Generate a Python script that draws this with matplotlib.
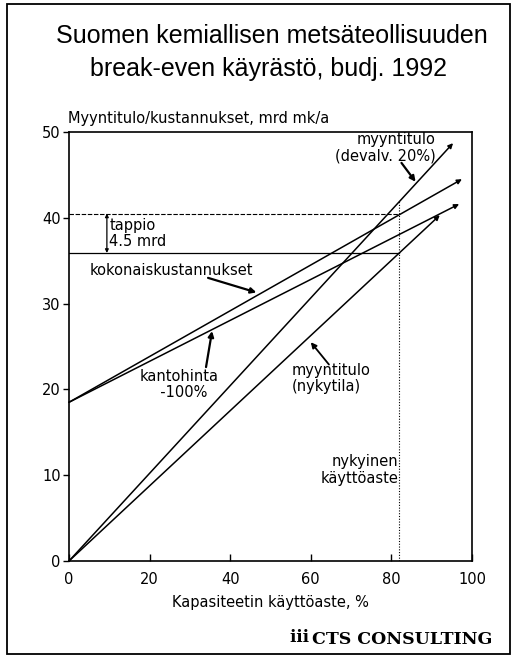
import matplotlib
matplotlib.use("Agg")
from matplotlib import pyplot as plt
from matplotlib.patches import Rectangle

plt.rcParams["font.family"] = ["DejaVu Sans"]

# break-even lines: start and end points (capacity %, mrd mk/a)
cost_x = [0, 97.5]
cost_y = [18.5, 44.5]
kanto_x = [0, 96.8]
kanto_y = [18.5, 41.6]
rev_now_x = [0, 92.0]
rev_now_y = [0, 40.3]
rev_dev_x = [0, 95.3]
rev_dev_y = [0, 48.7]

current_util = 82.0
cost_at_current = 40.5
rev_at_current = 35.9
rev_dev_at_current = 42.0

x_ticks = [0, 20, 40, 60, 80, 100]
y_ticks = [0, 10, 20, 30, 40, 50]

fig = plt.figure(figsize=(5.12, 6.56), dpi=100)
fig.patches.append(Rectangle((7 / 512, 2 / 656), 503 / 512, 650 / 656,
                             transform=fig.transFigure, fill=False, lw=1.3, ec="black"))

title_font = ["Liberation Sans", "DejaVu Sans"]
fig.text(0.531, 0.945, "Suomen kemiallisen metsäteollisuuden", ha="center", va="center",
         fontsize=18, family=title_font)
fig.text(0.524, 0.895, "break-even käyrästö, budj. 1992", ha="center", va="center",
         fontsize=18, family=title_font)

ax = fig.add_axes([69 / 512, 1 - 561 / 656, 403 / 512, 429 / 656])
ax.set_xlim(0, 100)
ax.set_ylim(0, 50)
ax.set_xticks(x_ticks)
ax.set_yticks(y_ticks)
ax.tick_params(axis="x", direction="in", length=5, width=1, labelsize=10.5, pad=8)
ax.tick_params(axis="y", direction="out", length=4, width=1, labelsize=10.5, pad=2)
for s in ax.spines.values():
  s.set_linewidth(1.2)

def arrow_line(xs, ys):
  ax.annotate("", xy=(xs[1], ys[1]), xytext=(xs[0], ys[0]),
              arrowprops=dict(arrowstyle="-|>", lw=1.1, color="black",
                              mutation_scale=7, shrinkA=0, shrinkB=0))

arrow_line(cost_x, cost_y)
arrow_line(kanto_x, kanto_y)
arrow_line(rev_now_x, rev_now_y)
arrow_line(rev_dev_x, rev_dev_y)

# current utilisation and loss markers
ax.plot([current_util, current_util], [0, rev_dev_at_current], color="black", lw=0.8, ls=(0, (1, 1.5)))
ax.plot([0, current_util], [cost_at_current, cost_at_current], color="black", lw=0.8, ls=(0, (4, 1.5)))
ax.plot([0, current_util], [rev_at_current, rev_at_current], color="black", lw=0.9)
ax.annotate("", xy=(9.4, cost_at_current), xytext=(9.4, rev_at_current),
            arrowprops=dict(arrowstyle="<|-|>", lw=0.9, color="black", mutation_scale=5, shrinkA=0, shrinkB=0))

lab = dict(fontsize=10.5, linespacing=1.12)
ax.text(10.0, (cost_at_current + rev_at_current) / 2, "tappio\n4.5 mrd", ha="left", va="center", **lab)
ax.text(25.5, 33.8, "kokonaiskustannukset", ha="center", va="center", **lab)
ax.annotate("", xy=(46.5, 31.3), xytext=(34.5, 33.0),
            arrowprops=dict(arrowstyle="-|>", lw=1.6, color="black", mutation_scale=8, shrinkA=0, shrinkB=0))
ax.text(27.3, 20.6, "kantohinta\n  -100%", ha="center", va="center", **lab)
ax.annotate("", xy=(35.5, 26.8), xytext=(34.0, 22.6),
            arrowprops=dict(arrowstyle="-|>", lw=1.6, color="black", mutation_scale=8, shrinkA=0, shrinkB=0))
ax.text(55.3, 21.3, "myyntitulo\n(nykytila)", ha="left", va="center", **lab)
ax.annotate("", xy=(60.0, 25.5), xytext=(64.5, 22.9),
            arrowprops=dict(arrowstyle="-|>", lw=1.3, color="black", mutation_scale=8, shrinkA=0, shrinkB=0))
ax.text(91.0, 48.2, "myyntitulo\n(devalv. 20%)", ha="right", va="center", **lab)
ax.annotate("", xy=(86.0, 44.2), xytext=(82.5, 46.4),
            arrowprops=dict(arrowstyle="-|>", lw=1.6, color="black", mutation_scale=8, shrinkA=0, shrinkB=0))
ax.text(81.8, 10.6, "nykyinen\nkäyttöaste", ha="right", va="center", **lab)

fig.text(68 / 512, 1 - 119 / 656, "Myyntitulo/kustannukset, mrd mk/a", ha="left", va="center", fontsize=10.5)
ax.set_xlabel("Kapasiteetin käyttöaste, %", fontsize=10.5, labelpad=6)

fig.text(312 / 512, 1 - 639 / 656, "CTS CONSULTING", ha="left", va="center",
         fontsize=12.5, family=["DejaVu Serif"], fontweight="bold")
fig.text(299 / 512, 1 - 638 / 656, "ⅲ", ha="center", va="center", fontsize=12,
         family=["DejaVu Serif"], fontweight="bold")

fig.savefig("out.png", dpi=100)
plt.close(fig)
